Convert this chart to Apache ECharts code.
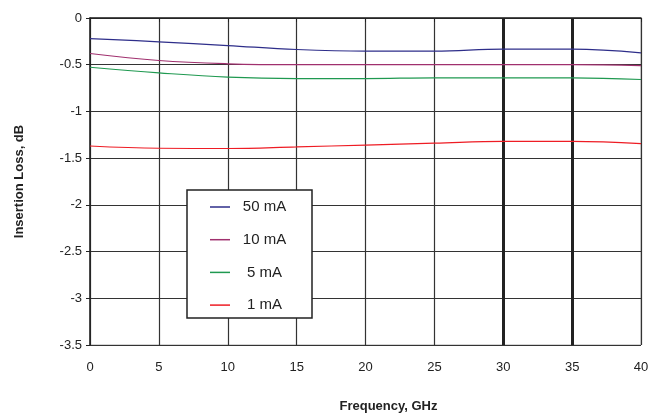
<!DOCTYPE html>
<html><head><meta charset="utf-8">
<script src="https://cdn.jsdelivr.net/npm/echarts@6/dist/echarts.min.js"></script>
<style>html,body{margin:0;padding:0;background:#fff}#c{width:652px;height:416px}</style>
</head><body><div id="c"></div>
<script>
const freq = [0, 5, 10, 15, 20, 25, 30, 35, 40];
const seriesNames = ['50 mA', '10 mA', '5 mA', '1 mA'];
const s50 = [-0.22, -0.255, -0.295, -0.337, -0.355, -0.355, -0.334, -0.334, -0.373];
const s10 = [-0.38, -0.455, -0.49, -0.5, -0.5, -0.5, -0.5, -0.5, -0.51];
const s5 = [-0.527, -0.587, -0.633, -0.648, -0.648, -0.64, -0.64, -0.64, -0.658];
const s1 = [-1.37, -1.394, -1.397, -1.38, -1.36, -1.34, -1.32, -1.32, -1.344];
const colors = ['#2e2e8a', '#a0306e', '#1f9950', '#ee1c24'];
const thickX = [30, 35];

const font = 'Liberation Sans, Arial, sans-serif';
const chart = echarts.init(document.getElementById('c'));
const allData = [s50, s10, s5, s1];
const series = allData.map((d, i) => ({
  name: seriesNames[i], type: 'line', smooth: 0.4, showSymbol: false,
  data: d.map((v, j) => [freq[j], v]),
  lineStyle: { color: colors[i], width: 1.2 }, itemStyle: { color: colors[i] },
  z: 5
}));
series[0].markLine = {
  silent: true, symbol: 'none', label: { show: false },
  lineStyle: { color: '#222', width: 3, type: 'solid' },
  data: thickX.map(x => ({ xAxis: x }))
};
chart.setOption({
  animation: false,
  grid: { left: 90, right: 11, top: 18, bottom: 71, show: true, borderColor: '#aaa', borderWidth: 1,
    outerBoundsMode: 'none', containLabel: false },
  legend: {
    data: seriesNames, orient: 'vertical', left: 187, top: 190,
    backgroundColor: '#fff', borderColor: '#222', borderWidth: 1.5,
    padding: [9, 18, 5, 23], itemGap: 16.7, itemWidth: 20, itemHeight: 1.5, icon: 'rect',
    formatter: n => '{t|' + n + '}',
    textStyle: { fontFamily: font, fontSize: 15, color: '#222', lineHeight: 16,
      rich: { t: { width: 59, align: 'center', fontFamily: font, fontSize: 15, color: '#222', lineHeight: 16 } } }
  },
  xAxis: {
    type: 'value', min: 0, max: 40, interval: 5,
    name: 'Frequency, GHz', nameLocation: 'middle', nameGap: 55,
    nameTextStyle: { fontFamily: font, fontSize: 13, fontWeight: 'bold', color: '#222', padding: [0, 0, 0, 46] },
    axisLine: { lineStyle: { color: '#222', width: 1.5 } },
    axisTick: { show: true, length: 4, lineStyle: { color: '#222' } },
    axisLabel: { fontFamily: font, fontSize: 13, color: '#222', margin: 16 },
    splitLine: { lineStyle: { color: '#333', width: 1.2 } }
  },
  yAxis: {
    type: 'value', min: -3.5, max: 0, interval: 0.5,
    name: 'Insertion Loss, dB', nameLocation: 'middle', nameGap: 64,
    nameTextStyle: { fontFamily: font, fontSize: 13, fontWeight: 'bold', color: '#222' },
    axisLine: { show: true, lineStyle: { color: '#222', width: 1.5 } },
    axisTick: { show: true, length: 4, lineStyle: { color: '#222' } },
    axisLabel: { fontFamily: font, fontSize: 13, color: '#222', margin: 8 },
    splitLine: { lineStyle: { color: '#333', width: 1.2 } }
  },
  series: series
});
</script></body></html>
